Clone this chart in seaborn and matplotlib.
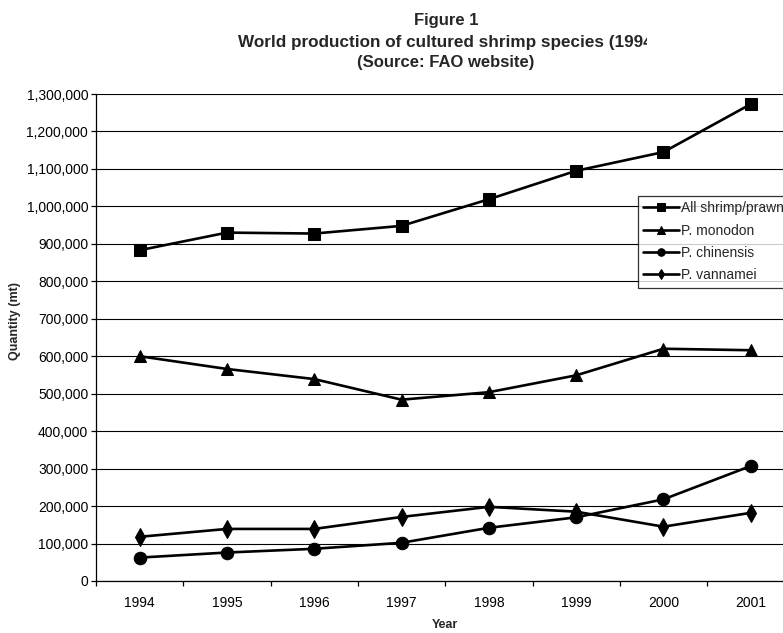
import matplotlib
matplotlib.use("Agg")
import matplotlib.pyplot as plt
import seaborn as sns
import pandas as pd
from matplotlib.ticker import FuncFormatter
from matplotlib.transforms import Bbox

years = [1994, 1995, 1996, 1997, 1998, 1999, 2000, 2001]
all_shrimp = [883000, 930000, 927500, 948000, 1019000, 1095000, 1145000, 1273000]
monodon = [600000, 566000, 539000, 484000, 504000, 549000, 620000, 616000]
chinensis = [62500, 76000, 86000, 102000, 142000, 170000, 218000, 307000]
vannamei = [118000, 139000, 139000, 171000, 198000, 185000, 145000, 182000]
series_names = ["All shrimp/prawns", "P. monodon", "P. chinensis", "P. vannamei"]
series_values = [all_shrimp, monodon, chinensis, vannamei]
yticks = list(range(0, 1300001, 100000))

rows = []
for name, vals in zip(series_names, series_values):
    for y, v in zip(years, vals):
        rows.append({"Year": y, "Quantity": v, "Series": name})
df = pd.DataFrame(rows)

sns.set_theme(style="white")
plt.rcParams["font.family"] = ["Liberation Sans", "DejaVu Sans"]

W, H = 783, 633
fig = plt.figure(figsize=(W / 100, H / 100), dpi=100)
ax = fig.add_axes([96 / W, 1 - 581 / H, 698.4 / W, (581 - 94) / H])

sns.lineplot(data=df, x="Year", y="Quantity", hue="Series", style="Series",
             palette=["black"] * 4, markers=["s", "^", "o", "d"], dashes=False,
             markersize=9, linewidth=1.9, markeredgecolor="black",
             ax=ax, sort=False, legend=True)

handles, labels = ax.get_legend_handles_labels()
if ax.get_legend() is not None:
    ax.get_legend().remove()

ax.set_ylim(0, 1300000)
ax.set_yticks(yticks)
ax.yaxis.set_major_formatter(FuncFormatter(lambda v, p: f"{int(v):,}"))
ax.set_xlim(1993.5, 2001.5)
ax.set_xticks(years)
ax.set_xticklabels([str(y) for y in years])
ax.set_xticks([y - 0.5 for y in years] + [years[-1] + 0.5], minor=True)
ax.tick_params(axis="x", which="major", length=0, pad=11, labelsize=10, colors="black")
ax.tick_params(axis="x", which="minor", length=3.6, width=0.9, direction="out",
               color="black", bottom=True)
ax.tick_params(axis="y", which="major", length=3.6, width=0.9, direction="out",
               pad=2, labelsize=10, colors="black", left=True)
ax.yaxis.grid(True, color="black", linewidth=0.8)
ax.xaxis.grid(False)
ax.set_axisbelow(True)
for s in ["top", "right"]:
    ax.spines[s].set_visible(False)
for s in ["left", "bottom"]:
    ax.spines[s].set_color("black")
    ax.spines[s].set_linewidth(0.9)
ax.set_xlabel("")
ax.set_ylabel("")

fig.text(445 / W, 1 - 625 / H, "Year", ha="center", va="center",
         fontsize=9, fontweight="bold")
fig.text(15 / W, 1 - 321 / H, "Quantity (mt)", ha="center", va="center",
         rotation=90, fontsize=9, fontweight="bold")

fig.text(446 / W, 1 - 20 / H, "Figure 1", ha="center", va="center",
         fontsize=12, fontweight="bold")
t2 = fig.text(238 / W, 1 - 42 / H, "World production of cultured shrimp species (1994-2001)",
              ha="left", va="center", fontsize=12.3, fontweight="bold")
t2.set_clip_on(True)
t2.set_clip_box(Bbox([[0, 0], [647, H]]))
fig.text(446 / W, 1 - 63 / H, "(Source: FAO website)", ha="center", va="center",
         fontsize=12, fontweight="bold")

leg = fig.legend(handles, labels, loc="upper left",
                 bbox_to_anchor=(638 / W, 1 - 196 / H), bbox_transform=fig.transFigure,
                 borderaxespad=0, frameon=True, fancybox=False, fontsize=10,
                 handlelength=2.6, handletextpad=0.15, labelspacing=0.6,
                 borderpad=0.38, markerscale=0.6)
leg.get_frame().set_edgecolor("black")
leg.get_frame().set_linewidth(0.9)
leg.get_frame().set_facecolor("white")

fig.savefig("out.png", dpi=100)
